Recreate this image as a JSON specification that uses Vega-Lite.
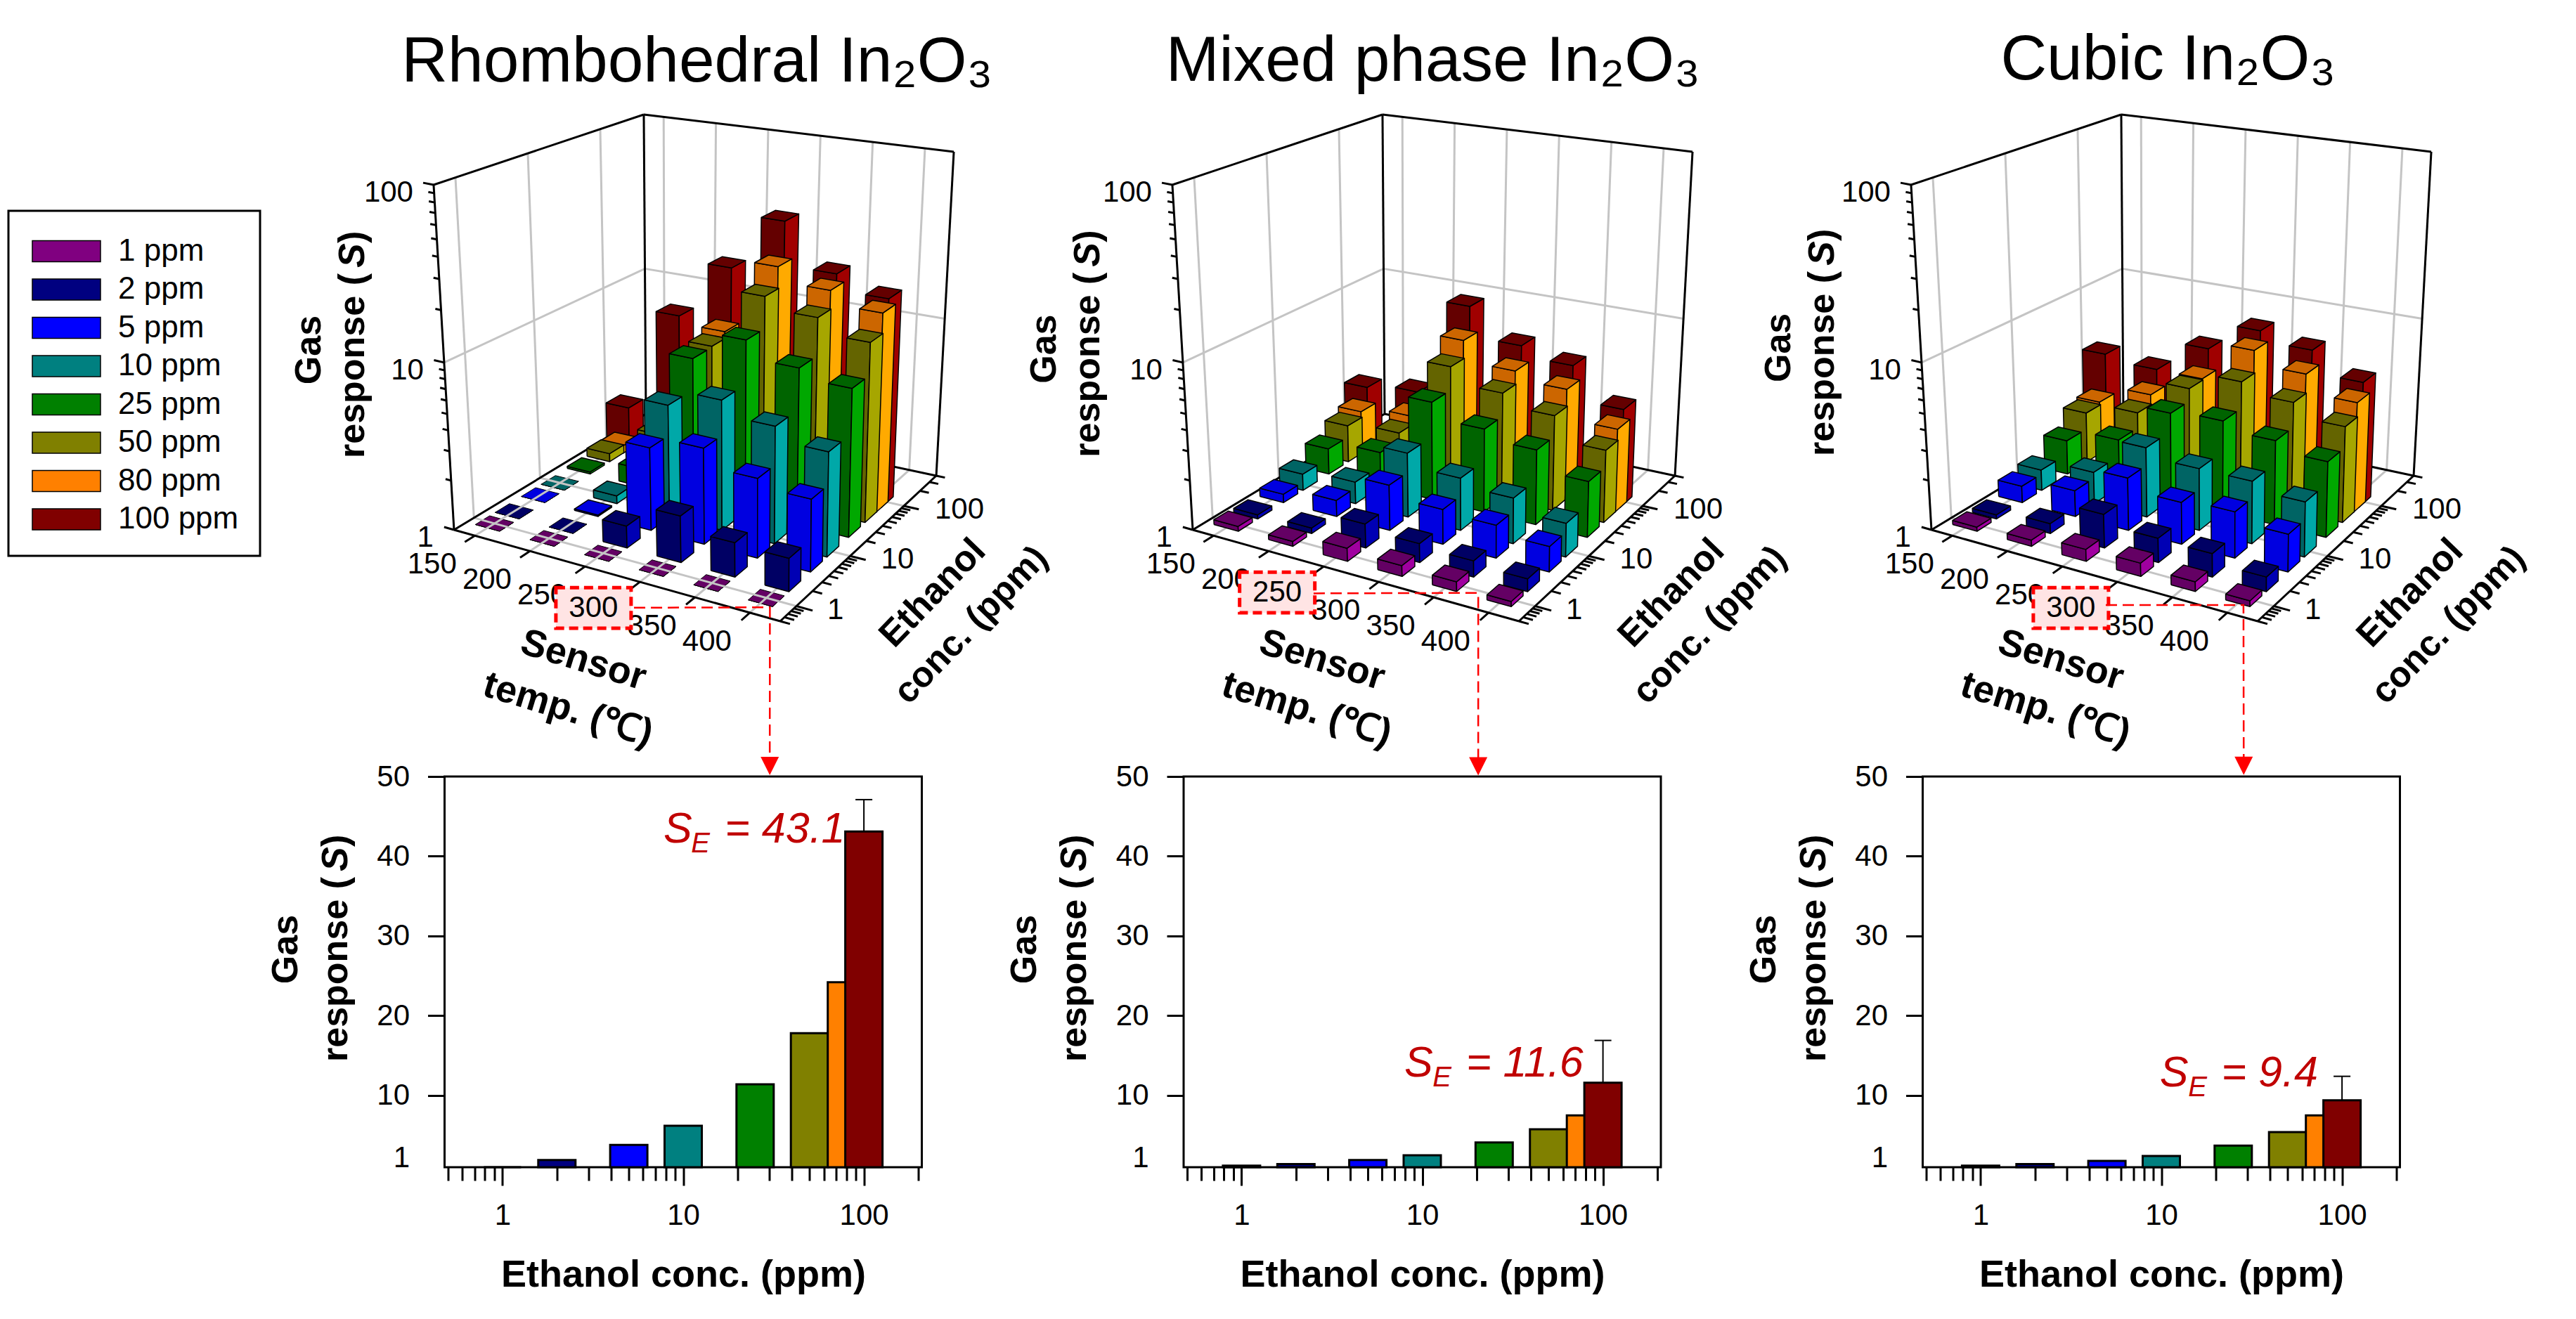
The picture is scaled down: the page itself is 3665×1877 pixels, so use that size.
{"$schema":"https://vega.github.io/schema/vega-lite/v6.json","padding":0,"background":"white","bounds":"flush","spacing":0,"config":{"font":"Liberation Sans","view":{"stroke":null},"legend":{"strokeWidth":3}},"resolve":{"scale":{"color":"independent","fill":"independent"},"legend":{"color":"independent"}},"vconcat":[{"width":3665,"height":1105,"data":{"values":[
{"kind":"grid","temp":150,"conc":0.5,"response":1,"temp2":150,"conc2":400,"response2":1},{"kind":"grid","temp":200,"conc":0.5,"response":1,"temp2":200,"conc2":400,"response2":1},{"kind":"grid","temp":250,"conc":0.5,"response":1,"temp2":250,"conc2":400,"response2":1},{"kind":"grid","temp":300,"conc":0.5,"response":1,"temp2":300,"conc2":400,"response2":1},{"kind":"grid","temp":350,"conc":0.5,"response":1,"temp2":350,"conc2":400,"response2":1},{"kind":"grid","temp":400,"conc":0.5,"response":1,"temp2":400,"conc2":400,"response2":1},
{"kind":"grid","temp":131,"conc":1,"response":1,"temp2":427.6,"conc2":1,"response2":1},{"kind":"grid","temp":131,"conc":10,"response":1,"temp2":427.6,"conc2":10,"response2":1},{"kind":"grid","temp":131,"conc":100,"response":1,"temp2":427.6,"conc2":100,"response2":1},
{"kind":"grid","temp":131,"conc":1,"response":1,"temp2":131,"conc2":1,"response2":100},{"kind":"grid","temp":131,"conc":10,"response":1,"temp2":131,"conc2":10,"response2":100},{"kind":"grid","temp":131,"conc":100,"response":1,"temp2":131,"conc2":100,"response2":100},
{"kind":"grid","temp":131,"conc":0.5,"response":10,"temp2":131,"conc2":400,"response2":10},
{"kind":"grid","temp":150,"conc":400,"response":1,"temp2":150,"conc2":400,"response2":100},{"kind":"grid","temp":200,"conc":400,"response":1,"temp2":200,"conc2":400,"response2":100},{"kind":"grid","temp":250,"conc":400,"response":1,"temp2":250,"conc2":400,"response2":100},{"kind":"grid","temp":300,"conc":400,"response":1,"temp2":300,"conc2":400,"response2":100},{"kind":"grid","temp":350,"conc":400,"response":1,"temp2":350,"conc2":400,"response2":100},{"kind":"grid","temp":400,"conc":400,"response":1,"temp2":400,"conc2":400,"response2":100},
{"kind":"grid","temp":131,"conc":400,"response":10,"temp2":427.6,"conc2":400,"response2":10},
{"kind":"frame","temp":131,"conc":0.5,"response":1,"temp2":427.6,"conc2":0.5,"response2":1},{"kind":"frame","temp":427.6,"conc":0.5,"response":1,"temp2":427.6,"conc2":400,"response2":1},{"kind":"frame","temp":131,"conc":0.5,"response":1,"temp2":131,"conc2":400,"response2":1},{"kind":"frame","temp":131,"conc":400,"response":1,"temp2":427.6,"conc2":400,"response2":1},{"kind":"frame","temp":131,"conc":0.5,"response":1,"temp2":131,"conc2":0.5,"response2":100},{"kind":"frame","temp":131,"conc":400,"response":1,"temp2":131,"conc2":400,"response2":100},{"kind":"frame","temp":427.6,"conc":400,"response":1,"temp2":427.6,"conc2":400,"response2":100},{"kind":"frame","temp":131,"conc":0.5,"response":100,"temp2":131,"conc2":400,"response2":100},{"kind":"frame","temp":131,"conc":400,"response":100,"temp2":427.6,"conc2":400,"response2":100},
{"kind":"frame","temp":150,"conc":0.5,"response":1,"temp2":150,"conc2":0.35,"response2":1},{"kind":"frame","temp":200,"conc":0.5,"response":1,"temp2":200,"conc2":0.35,"response2":1},{"kind":"frame","temp":250,"conc":0.5,"response":1,"temp2":250,"conc2":0.35,"response2":1},{"kind":"frame","temp":300,"conc":0.5,"response":1,"temp2":300,"conc2":0.35,"response2":1},{"kind":"frame","temp":350,"conc":0.5,"response":1,"temp2":350,"conc2":0.35,"response2":1},{"kind":"frame","temp":400,"conc":0.5,"response":1,"temp2":400,"conc2":0.35,"response2":1},
{"kind":"frame","temp":427.6,"conc":0.5,"response":1,"temp2":436.5,"conc2":0.5,"response2":1},{"kind":"frame","temp":427.6,"conc":0.6,"response":1,"temp2":436.5,"conc2":0.6,"response2":1},{"kind":"frame","temp":427.6,"conc":0.7,"response":1,"temp2":436.5,"conc2":0.7,"response2":1},{"kind":"frame","temp":427.6,"conc":0.8,"response":1,"temp2":436.5,"conc2":0.8,"response2":1},{"kind":"frame","temp":427.6,"conc":0.9,"response":1,"temp2":436.5,"conc2":0.9,"response2":1},{"kind":"frame","temp":427.6,"conc":1,"response":1,"temp2":442.5,"conc2":1,"response2":1},{"kind":"frame","temp":427.6,"conc":2,"response":1,"temp2":436.5,"conc2":2,"response2":1},{"kind":"frame","temp":427.6,"conc":3,"response":1,"temp2":436.5,"conc2":3,"response2":1},{"kind":"frame","temp":427.6,"conc":4,"response":1,"temp2":436.5,"conc2":4,"response2":1},{"kind":"frame","temp":427.6,"conc":5,"response":1,"temp2":436.5,"conc2":5,"response2":1},{"kind":"frame","temp":427.6,"conc":6,"response":1,"temp2":436.5,"conc2":6,"response2":1},{"kind":"frame","temp":427.6,"conc":7,"response":1,"temp2":436.5,"conc2":7,"response2":1},{"kind":"frame","temp":427.6,"conc":8,"response":1,"temp2":436.5,"conc2":8,"response2":1},{"kind":"frame","temp":427.6,"conc":9,"response":1,"temp2":436.5,"conc2":9,"response2":1},{"kind":"frame","temp":427.6,"conc":10,"response":1,"temp2":442.5,"conc2":10,"response2":1},{"kind":"frame","temp":427.6,"conc":20,"response":1,"temp2":436.5,"conc2":20,"response2":1},{"kind":"frame","temp":427.6,"conc":30,"response":1,"temp2":436.5,"conc2":30,"response2":1},{"kind":"frame","temp":427.6,"conc":40,"response":1,"temp2":436.5,"conc2":40,"response2":1},{"kind":"frame","temp":427.6,"conc":50,"response":1,"temp2":436.5,"conc2":50,"response2":1},{"kind":"frame","temp":427.6,"conc":60,"response":1,"temp2":436.5,"conc2":60,"response2":1},{"kind":"frame","temp":427.6,"conc":70,"response":1,"temp2":436.5,"conc2":70,"response2":1},{"kind":"frame","temp":427.6,"conc":80,"response":1,"temp2":436.5,"conc2":80,"response2":1},{"kind":"frame","temp":427.6,"conc":90,"response":1,"temp2":436.5,"conc2":90,"response2":1},{"kind":"frame","temp":427.6,"conc":100,"response":1,"temp2":442.5,"conc2":100,"response2":1},{"kind":"frame","temp":427.6,"conc":200,"response":1,"temp2":436.5,"conc2":200,"response2":1},{"kind":"frame","temp":427.6,"conc":300,"response":1,"temp2":436.5,"conc2":300,"response2":1},{"kind":"frame","temp":427.6,"conc":400,"response":1,"temp2":436.5,"conc2":400,"response2":1},
{"kind":"frame","temp":131,"conc":0.5,"response":1,"temp2":122,"conc2":0.5,"response2":1},{"kind":"frame","temp":131,"conc":0.5,"response":2,"temp2":126,"conc2":0.5,"response2":2},{"kind":"frame","temp":131,"conc":0.5,"response":3,"temp2":126,"conc2":0.5,"response2":3},{"kind":"frame","temp":131,"conc":0.5,"response":4,"temp2":126,"conc2":0.5,"response2":4},{"kind":"frame","temp":131,"conc":0.5,"response":5,"temp2":126,"conc2":0.5,"response2":5},{"kind":"frame","temp":131,"conc":0.5,"response":6,"temp2":126,"conc2":0.5,"response2":6},{"kind":"frame","temp":131,"conc":0.5,"response":7,"temp2":126,"conc2":0.5,"response2":7},{"kind":"frame","temp":131,"conc":0.5,"response":8,"temp2":126,"conc2":0.5,"response2":8},{"kind":"frame","temp":131,"conc":0.5,"response":9,"temp2":126,"conc2":0.5,"response2":9},{"kind":"frame","temp":131,"conc":0.5,"response":10,"temp2":122,"conc2":0.5,"response2":10},{"kind":"frame","temp":131,"conc":0.5,"response":20,"temp2":126,"conc2":0.5,"response2":20},{"kind":"frame","temp":131,"conc":0.5,"response":30,"temp2":126,"conc2":0.5,"response2":30},{"kind":"frame","temp":131,"conc":0.5,"response":40,"temp2":126,"conc2":0.5,"response2":40},{"kind":"frame","temp":131,"conc":0.5,"response":50,"temp2":126,"conc2":0.5,"response2":50},{"kind":"frame","temp":131,"conc":0.5,"response":60,"temp2":126,"conc2":0.5,"response2":60},{"kind":"frame","temp":131,"conc":0.5,"response":70,"temp2":126,"conc2":0.5,"response2":70},{"kind":"frame","temp":131,"conc":0.5,"response":80,"temp2":126,"conc2":0.5,"response2":80},{"kind":"frame","temp":131,"conc":0.5,"response":90,"temp2":126,"conc2":0.5,"response2":90},{"kind":"frame","temp":131,"conc":0.5,"response":100,"temp2":122,"conc2":0.5,"response2":100},
{"kind":"tl","temp":150,"conc":0.5,"response":1,"text":"150"},{"kind":"tl","temp":200,"conc":0.5,"response":1,"text":"200"},{"kind":"tl","temp":250,"conc":0.5,"response":1,"text":"250"},{"kind":"tl","temp":300,"conc":0.5,"response":1,"text":"300"},{"kind":"tl","temp":350,"conc":0.5,"response":1,"text":"350"},{"kind":"tl","temp":400,"conc":0.5,"response":1,"text":"400"},
{"kind":"cl","temp":427.6,"conc":1,"response":1,"text":"1"},{"kind":"cl","temp":427.6,"conc":10,"response":1,"text":"10"},{"kind":"cl","temp":427.6,"conc":100,"response":1,"text":"100"},
{"kind":"rl","temp":131,"conc":0.5,"response":1,"text":"1"},{"kind":"rl","temp":131,"conc":0.5,"response":10,"text":"10"},{"kind":"rl","temp":131,"conc":0.5,"response":100,"text":"100"},
{"kind":"box","p":0,"temp":300,"conc":0.5,"response":1,"text":"300"},{"kind":"box","p":1,"temp":250,"conc":0.5,"response":1,"text":"250"},{"kind":"box","p":2,"temp":300,"conc":0.5,"response":1,"text":"300"},
{"kind":"conn","p":0,"k":0,"temp":317.9,"conc":0.1824,"response":1},{"kind":"conn","p":0,"k":1,"temp":409.8,"conc":0.74,"response":1},{"kind":"conn","p":0,"k":2,"temp":518,"conc":0.00317,"response":1},
{"kind":"conn","p":1,"k":0,"temp":267.4,"conc":0.1648,"response":1},{"kind":"conn","p":1,"k":1,"temp":377.2,"conc":0.919,"response":1},{"kind":"conn","p":1,"k":2,"temp":498.8,"conc":0.00227,"response":1},
{"kind":"conn","p":2,"k":0,"temp":311.9,"conc":0.19,"response":1},{"kind":"conn","p":2,"k":1,"temp":405.3,"conc":0.774,"response":1},{"kind":"conn","p":2,"k":2,"temp":515.7,"conc":0.00307,"response":1},
{"kind":"title","p":0,"temp":131,"conc":0.5,"response":1,"text":"Rhombohedral In₂O₃"},{"kind":"title","p":1,"temp":128.4,"conc":0.5,"response":1,"text":"Mixed phase In₂O₃"},{"kind":"title","p":2,"temp":125.2,"conc":0.5,"response":1,"text":"Cubic In₂O₃"},
{"kind":"ytitle","p":0,"temp":131,"conc":0.5,"response":1},{"kind":"ytitle","p":1,"temp":128,"conc":0.5,"response":1},{"kind":"ytitle","p":2,"temp":124,"conc":0.5,"response":1},
{"kind":"anchor","temp":131,"conc":0.5,"response":1},
{"kind":"legend","p":0,"temp":150,"conc":1,"response":1,"ppm":"1 ppm"},{"kind":"legend","p":0,"temp":150,"conc":1,"response":1,"ppm":"2 ppm"},{"kind":"legend","p":0,"temp":150,"conc":1,"response":1,"ppm":"5 ppm"},{"kind":"legend","p":0,"temp":150,"conc":1,"response":1,"ppm":"10 ppm"},{"kind":"legend","p":0,"temp":150,"conc":1,"response":1,"ppm":"25 ppm"},{"kind":"legend","p":0,"temp":150,"conc":1,"response":1,"ppm":"50 ppm"},{"kind":"legend","p":0,"temp":150,"conc":1,"response":1,"ppm":"80 ppm"},{"kind":"legend","p":0,"temp":150,"conc":1,"response":1,"ppm":"100 ppm"},
{"kind":"bar","p":0,"temp":150,"conc":100,"response":1.9},{"kind":"bar","p":0,"temp":200,"conc":100,"response":8.8},{"kind":"bar","p":0,"temp":250,"conc":100,"response":20},{"kind":"bar","p":0,"temp":300,"conc":100,"response":43.1},{"kind":"bar","p":0,"temp":350,"conc":100,"response":23.6},{"kind":"bar","p":0,"temp":400,"conc":100,"response":19},
{"kind":"bar","p":0,"temp":150,"conc":80,"response":1.12},{"kind":"bar","p":0,"temp":200,"conc":80,"response":2.2},{"kind":"bar","p":0,"temp":250,"conc":80,"response":8.5},{"kind":"bar","p":0,"temp":300,"conc":80,"response":24.2},{"kind":"bar","p":0,"temp":350,"conc":80,"response":19.8},{"kind":"bar","p":0,"temp":400,"conc":80,"response":16.5},
{"kind":"bar","p":0,"temp":150,"conc":50,"response":1.13},{"kind":"bar","p":0,"temp":200,"conc":50,"response":1.8},{"kind":"bar","p":0,"temp":250,"conc":50,"response":7.7},{"kind":"bar","p":0,"temp":300,"conc":50,"response":17.8},{"kind":"bar","p":0,"temp":350,"conc":50,"response":15.2},{"kind":"bar","p":0,"temp":400,"conc":50,"response":12.4},
{"kind":"bar","p":0,"temp":150,"conc":25,"response":1.03},{"kind":"bar","p":0,"temp":200,"conc":25,"response":1.3},{"kind":"bar","p":0,"temp":250,"conc":25,"response":7.6},{"kind":"bar","p":0,"temp":300,"conc":25,"response":11.4},{"kind":"bar","p":0,"temp":350,"conc":25,"response":9},{"kind":"bar","p":0,"temp":400,"conc":25,"response":7.9},
{"kind":"bar","p":0,"temp":150,"conc":10,"response":1},{"kind":"bar","p":0,"temp":200,"conc":10,"response":1.12},{"kind":"bar","p":0,"temp":250,"conc":10,"response":4.9},{"kind":"bar","p":0,"temp":300,"conc":10,"response":6.2},{"kind":"bar","p":0,"temp":350,"conc":10,"response":5.1},{"kind":"bar","p":0,"temp":400,"conc":10,"response":4.25},
{"kind":"bar","p":0,"temp":150,"conc":5,"response":1},{"kind":"bar","p":0,"temp":200,"conc":5,"response":1.02},{"kind":"bar","p":0,"temp":250,"conc":5,"response":3.2},{"kind":"bar","p":0,"temp":300,"conc":5,"response":3.8},{"kind":"bar","p":0,"temp":350,"conc":5,"response":3},{"kind":"bar","p":0,"temp":400,"conc":5,"response":2.7},
{"kind":"bar","p":0,"temp":150,"conc":2,"response":1},{"kind":"bar","p":0,"temp":200,"conc":2,"response":1},{"kind":"bar","p":0,"temp":250,"conc":2,"response":1.36},{"kind":"bar","p":0,"temp":300,"conc":2,"response":1.9},{"kind":"bar","p":0,"temp":350,"conc":2,"response":1.6},{"kind":"bar","p":0,"temp":400,"conc":2,"response":1.57},
{"kind":"bar","p":0,"temp":150,"conc":1,"response":1},{"kind":"bar","p":0,"temp":200,"conc":1,"response":1},{"kind":"bar","p":0,"temp":250,"conc":1,"response":1},{"kind":"bar","p":0,"temp":300,"conc":1,"response":1},{"kind":"bar","p":0,"temp":350,"conc":1,"response":1},{"kind":"bar","p":0,"temp":400,"conc":1,"response":1},
{"kind":"bar","p":1,"temp":150,"conc":100,"response":2.6},{"kind":"bar","p":1,"temp":200,"conc":100,"response":2.85},{"kind":"bar","p":1,"temp":250,"conc":100,"response":11.6},{"kind":"bar","p":1,"temp":300,"conc":100,"response":7.6},{"kind":"bar","p":1,"temp":350,"conc":100,"response":6.6},{"kind":"bar","p":1,"temp":400,"conc":100,"response":4.1},
{"kind":"bar","p":1,"temp":150,"conc":80,"response":1.9},{"kind":"bar","p":1,"temp":200,"conc":80,"response":2.1},{"kind":"bar","p":1,"temp":250,"conc":80,"response":7.5},{"kind":"bar","p":1,"temp":300,"conc":80,"response":5.6},{"kind":"bar","p":1,"temp":350,"conc":80,"response":5},{"kind":"bar","p":1,"temp":400,"conc":80,"response":3.3},
{"kind":"bar","p":1,"temp":150,"conc":50,"response":1.73},{"kind":"bar","p":1,"temp":200,"conc":50,"response":1.85},{"kind":"bar","p":1,"temp":250,"conc":50,"response":5.75},{"kind":"bar","p":1,"temp":300,"conc":50,"response":4.6},{"kind":"bar","p":1,"temp":350,"conc":50,"response":3.9},{"kind":"bar","p":1,"temp":400,"conc":50,"response":2.8},
{"kind":"bar","p":1,"temp":150,"conc":25,"response":1.46},{"kind":"bar","p":1,"temp":200,"conc":25,"response":1.66},{"kind":"bar","p":1,"temp":250,"conc":25,"response":4.1},{"kind":"bar","p":1,"temp":300,"conc":25,"response":3.3},{"kind":"bar","p":1,"temp":350,"conc":25,"response":2.9},{"kind":"bar","p":1,"temp":400,"conc":25,"response":2.2},
{"kind":"bar","p":1,"temp":150,"conc":10,"response":1.27},{"kind":"bar","p":1,"temp":200,"conc":10,"response":1.37},{"kind":"bar","p":1,"temp":250,"conc":10,"response":2.5},{"kind":"bar","p":1,"temp":300,"conc":10,"response":2.1},{"kind":"bar","p":1,"temp":350,"conc":10,"response":1.9},{"kind":"bar","p":1,"temp":400,"conc":10,"response":1.6},
{"kind":"bar","p":1,"temp":150,"conc":5,"response":1.13},{"kind":"bar","p":1,"temp":200,"conc":5,"response":1.26},{"kind":"bar","p":1,"temp":250,"conc":5,"response":1.9},{"kind":"bar","p":1,"temp":300,"conc":5,"response":1.63},{"kind":"bar","p":1,"temp":350,"conc":5,"response":1.58},{"kind":"bar","p":1,"temp":400,"conc":5,"response":1.42},
{"kind":"bar","p":1,"temp":150,"conc":2,"response":1.06},{"kind":"bar","p":1,"temp":200,"conc":2,"response":1.08},{"kind":"bar","p":1,"temp":250,"conc":2,"response":1.4},{"kind":"bar","p":1,"temp":300,"conc":2,"response":1.3},{"kind":"bar","p":1,"temp":350,"conc":2,"response":1.25},{"kind":"bar","p":1,"temp":400,"conc":2,"response":1.19},
{"kind":"bar","p":1,"temp":150,"conc":1,"response":1.07},{"kind":"bar","p":1,"temp":200,"conc":1,"response":1.07},{"kind":"bar","p":1,"temp":250,"conc":1,"response":1.2},{"kind":"bar","p":1,"temp":300,"conc":1,"response":1.16},{"kind":"bar","p":1,"temp":350,"conc":1,"response":1.14},{"kind":"bar","p":1,"temp":400,"conc":1,"response":1.07},
{"kind":"bar","p":2,"temp":150,"conc":100,"response":4.3},{"kind":"bar","p":2,"temp":200,"conc":100,"response":4},{"kind":"bar","p":2,"temp":250,"conc":100,"response":6.3},{"kind":"bar","p":2,"temp":300,"conc":100,"response":9.4},{"kind":"bar","p":2,"temp":350,"conc":100,"response":8.2},{"kind":"bar","p":2,"temp":400,"conc":100,"response":6},
{"kind":"bar","p":2,"temp":150,"conc":80,"response":2.2},{"kind":"bar","p":2,"temp":200,"conc":80,"response":2.9},{"kind":"bar","p":2,"temp":250,"conc":80,"response":4.3},{"kind":"bar","p":2,"temp":300,"conc":80,"response":7.5},{"kind":"bar","p":2,"temp":350,"conc":80,"response":6.2},{"kind":"bar","p":2,"temp":400,"conc":80,"response":4.8},
{"kind":"bar","p":2,"temp":150,"conc":50,"response":2.1},{"kind":"bar","p":2,"temp":200,"conc":50,"response":2.5},{"kind":"bar","p":2,"temp":250,"conc":50,"response":4.2},{"kind":"bar","p":2,"temp":300,"conc":50,"response":5.4},{"kind":"bar","p":2,"temp":350,"conc":50,"response":4.7},{"kind":"bar","p":2,"temp":400,"conc":50,"response":3.9},
{"kind":"bar","p":2,"temp":150,"conc":25,"response":1.65},{"kind":"bar","p":2,"temp":200,"conc":25,"response":2},{"kind":"bar","p":2,"temp":250,"conc":25,"response":3.5},{"kind":"bar","p":2,"temp":300,"conc":25,"response":3.7},{"kind":"bar","p":2,"temp":350,"conc":25,"response":3.3},{"kind":"bar","p":2,"temp":400,"conc":25,"response":2.9},
{"kind":"bar","p":2,"temp":150,"conc":10,"response":1.35},{"kind":"bar","p":2,"temp":200,"conc":10,"response":1.58},{"kind":"bar","p":2,"temp":250,"conc":10,"response":2.7},{"kind":"bar","p":2,"temp":300,"conc":10,"response":2.4},{"kind":"bar","p":2,"temp":350,"conc":10,"response":2.4},{"kind":"bar","p":2,"temp":400,"conc":10,"response":2.15},
{"kind":"bar","p":2,"temp":150,"conc":5,"response":1.27},{"kind":"bar","p":2,"temp":200,"conc":5,"response":1.45},{"kind":"bar","p":2,"temp":250,"conc":5,"response":2.1},{"kind":"bar","p":2,"temp":300,"conc":5,"response":1.8},{"kind":"bar","p":2,"temp":350,"conc":5,"response":1.9},{"kind":"bar","p":2,"temp":400,"conc":5,"response":1.68},
{"kind":"bar","p":2,"temp":150,"conc":2,"response":1.06},{"kind":"bar","p":2,"temp":200,"conc":2,"response":1.15},{"kind":"bar","p":2,"temp":250,"conc":2,"response":1.6},{"kind":"bar","p":2,"temp":300,"conc":2,"response":1.4},{"kind":"bar","p":2,"temp":350,"conc":2,"response":1.38},{"kind":"bar","p":2,"temp":400,"conc":2,"response":1.22},
{"kind":"bar","p":2,"temp":150,"conc":1,"response":1.06},{"kind":"bar","p":2,"temp":200,"conc":1,"response":1.09},{"kind":"bar","p":2,"temp":250,"conc":1,"response":1.18},{"kind":"bar","p":2,"temp":300,"conc":1,"response":1.2},{"kind":"bar","p":2,"temp":350,"conc":1,"response":1.14},{"kind":"bar","p":2,"temp":400,"conc":1,"response":1.08}
]},
"transform":[
{"calculate":"isValid(datum.p)?[datum.p]:[0,1,2]","as":"panels"},{"flatten":["panels"],"as":["panel"]},
{"calculate":"datum.kind=='bar'?[{f:'a',i:0,a:-1,b:-1,h:0},{f:'a',i:1,a:1,b:-1,h:0},{f:'a',i:2,a:1,b:-1,h:1},{f:'a',i:3,a:-1,b:-1,h:1},{f:'a',i:4,a:-1,b:-1,h:0},{f:'b',i:0,a:1,b:-1,h:0},{f:'b',i:1,a:1,b:1,h:0},{f:'b',i:2,a:1,b:1,h:1},{f:'b',i:3,a:1,b:-1,h:1},{f:'b',i:4,a:1,b:-1,h:0},{f:'c',i:0,a:-1,b:-1,h:1},{f:'c',i:1,a:1,b:-1,h:1},{f:'c',i:2,a:1,b:1,h:1},{f:'c',i:3,a:-1,b:1,h:1},{f:'c',i:4,a:-1,b:-1,h:1}]:[{f:'x',i:0,a:0,b:0,h:1}]","as":"verts"},{"flatten":["verts"],"as":["vert"]},
{"calculate":"0.064+(datum.temp-150)*0.003372+0.0375*datum.vert.a","as":"u"},
{"calculate":"(log(datum.conc)/LN10+0.301)/2.903+0.0375*datum.vert.b","as":"v"},
{"calculate":"log(datum.response)/LN10/2*datum.vert.h","as":"w0"},
{"calculate":"datum.w0*(0.94+0.06*datum.w0)","as":"w"},
{"calculate":"646+1051*datum.panel+464*datum.u+273*datum.v-51*datum.u*datum.v+datum.w*(-29+28*datum.u+26*datum.v)","as":"px"},
{"calculate":"754+130*datum.u-165*datum.v-42*datum.u*datum.v+datum.w*(-491-35*datum.u+65*datum.v)","as":"py"},
{"calculate":"0.064+(datum.temp2-150)*0.003372","as":"u2"},
{"calculate":"(log(datum.conc2)/LN10+0.301)/2.903","as":"v2"},
{"calculate":"log(datum.response2)/LN10/2","as":"w20"},
{"calculate":"datum.w20*(0.94+0.06*datum.w20)","as":"w2"},
{"calculate":"646+1051*datum.panel+464*datum.u2+273*datum.v2-51*datum.u2*datum.v2+datum.w2*(-29+28*datum.u2+26*datum.v2)","as":"px2"},
{"calculate":"754+130*datum.u2-165*datum.v2-42*datum.u2*datum.v2+datum.w2*(-491-35*datum.u2+65*datum.v2)","as":"py2"},
{"calculate":"datum.panel+'|'+datum.temp+'|'+datum.conc+'|'+datum.vert.f","as":"faceId"},
{"calculate":"datum.conc+(datum.vert.f=='b'?'l':'d')","as":"shade"},
{"calculate":"datum.vert.i","as":"vi"}
],
"encoding":{"x":{"field":"px","type":"quantitative","axis":null,"scale":{"domain":[0,3665],"nice":false,"zero":false}},"y":{"field":"py","type":"quantitative","axis":null,"scale":{"domain":[0,1105],"reverse":true,"nice":false,"zero":false}}},
"layer":[
{"transform":[{"filter":"datum.kind=='bar'&&datum.response<=1"}],"mark":{"type":"line","stroke":"black","strokeWidth":1},"encoding":{"fill":{"field":"shade","type":"nominal","legend":null,"scale":{"domain":["1d","1l","2d","2l","5d","5l","10d","10l","25d","25l","50d","50l","80d","80l","100d","100l"],"range":["#640064","#a000a0","#000064","#0000b4","#0000e0","#0000ff","#006464","#00a8a8","#006400","#00a800","#646400","#a6a600","#cc6600","#ffaa00","#640000","#a00000"]}},"detail":{"field":"faceId"},"order":{"field":"vi","type":"quantitative"}}},
{"transform":[{"filter":"datum.kind=='grid'"}],"mark":{"type":"rule","stroke":"#c4c4c4","strokeWidth":3},"encoding":{"x2":{"field":"px2"},"y2":{"field":"py2"}}},
{"transform":[{"filter":"datum.kind=='frame'"}],"mark":{"type":"rule","stroke":"black","strokeWidth":3},"encoding":{"x2":{"field":"px2"},"y2":{"field":"py2"}}},
{"transform":[{"filter":"datum.kind=='bar'&&datum.response>1"}],"mark":{"type":"line","stroke":"black","strokeWidth":1.5,"strokeJoin":"round"},"encoding":{"fill":{"field":"shade","type":"nominal","legend":null,"scale":{"domain":["1d","1l","2d","2l","5d","5l","10d","10l","25d","25l","50d","50l","80d","80l","100d","100l"],"range":["#640064","#a000a0","#000064","#0000b4","#0000e0","#0000ff","#006464","#00a8a8","#006400","#00a800","#646400","#a6a600","#cc6600","#ffaa00","#640000","#a00000"]}},"detail":{"field":"faceId"},"order":{"field":"vi","type":"quantitative"}}},
{"transform":[{"filter":"datum.kind=='tl'"}],"mark":{"type":"text","fontSize":42,"align":"center","baseline":"middle","xOffset":-61,"yOffset":41,"color":"black"},"encoding":{"text":{"field":"text"}}},
{"transform":[{"filter":"datum.kind=='cl'"}],"mark":{"type":"text","fontSize":42,"align":"left","baseline":"middle","xOffset":44,"yOffset":5,"color":"black"},"encoding":{"text":{"field":"text"}}},
{"transform":[{"filter":"datum.kind=='rl'"}],"mark":{"type":"text","fontSize":42,"align":"right","baseline":"middle","xOffset":-29,"yOffset":11,"color":"black"},"encoding":{"text":{"field":"text"}}},
{"transform":[{"filter":"datum.kind=='box'"}],"mark":{"type":"point","shape":"M-1,-0.54H1V0.54H-1Z","size":11449,"filled":false,"fill":"#ffe4e4","fillOpacity":1,"opacity":1,"stroke":"#ff0000","strokeWidth":5,"strokeDash":[13,7],"xOffset":-66,"yOffset":37}},
{"transform":[{"filter":"datum.kind=='box'"}],"mark":{"type":"text","fontSize":42,"align":"center","baseline":"middle","xOffset":-66,"yOffset":37,"color":"black"},"encoding":{"text":{"field":"text"}}},
{"transform":[{"filter":"datum.kind=='conn'"}],"mark":{"type":"line","stroke":"#ff0000","strokeWidth":2.5,"strokeDash":[16,8]},"encoding":{"detail":{"field":"panel"},"order":{"field":"k","type":"quantitative"}}},
{"transform":[{"filter":"datum.kind=='conn'&&datum.k==2"}],"mark":{"type":"point","shape":"M-1,-1H1L0,1Z","size":676,"filled":true,"color":"#ff0000","opacity":1}},
{"transform":[{"filter":"datum.kind=='title'"}],"mark":{"type":"text","fontSize":91,"align":"center","baseline":"alphabetic","xOffset":346,"yOffset":-638,"color":"black"},"encoding":{"text":{"field":"text"}}},
{"transform":[{"filter":"datum.kind=='ytitle'"}],"mark":{"type":"text","text":"Gas","fontSize":52,"fontWeight":"bold","angle":270,"align":"center","baseline":"middle","xOffset":-206,"yOffset":-256,"color":"black"}},
{"transform":[{"filter":"datum.kind=='ytitle'"}],"mark":{"type":"text","text":"response (","fontSize":52,"fontWeight":"bold","angle":270,"align":"left","baseline":"middle","xOffset":-144,"yOffset":-102,"color":"black"}},
{"transform":[{"filter":"datum.kind=='ytitle'"}],"mark":{"type":"text","text":"S","fontSize":52,"fontWeight":"bold","fontStyle":"italic","angle":270,"align":"left","baseline":"middle","xOffset":-144,"yOffset":-373,"color":"black"}},
{"transform":[{"filter":"datum.kind=='ytitle'"}],"mark":{"type":"text","text":")","fontSize":52,"fontWeight":"bold","angle":270,"align":"left","baseline":"middle","xOffset":-144,"yOffset":-408,"color":"black"}},
{"transform":[{"filter":"datum.kind=='anchor'"}],"mark":{"type":"text","text":"Sensor","fontSize":54,"fontWeight":"bold","angle":17,"align":"center","baseline":"middle","xOffset":184,"yOffset":186,"color":"black"}},
{"transform":[{"filter":"datum.kind=='anchor'"}],"mark":{"type":"text","text":"temp. (℃)","fontSize":54,"fontWeight":"bold","angle":17,"align":"center","baseline":"middle","xOffset":162,"yOffset":256,"color":"black"}},
{"transform":[{"filter":"datum.kind=='anchor'"}],"mark":{"type":"text","text":"Ethanol","fontSize":52,"fontWeight":"bold","angle":314,"align":"center","baseline":"middle","xOffset":681,"yOffset":90,"color":"black"}},
{"transform":[{"filter":"datum.kind=='anchor'"}],"mark":{"type":"text","text":"conc. (ppm)","fontSize":51,"fontWeight":"bold","angle":314,"align":"center","baseline":"middle","xOffset":736,"yOffset":136,"color":"black"}},
{"transform":[{"filter":"datum.kind=='legend'"}],"mark":{"type":"point","filled":true,"size":0},"encoding":{"color":{"field":"ppm","type":"nominal","scale":{"domain":["1 ppm","2 ppm","5 ppm","10 ppm","25 ppm","50 ppm","80 ppm","100 ppm"],"range":["#800080","#000080","#0000ff","#008080","#008000","#808000","#ff8000","#800000"]},"legend":{"orient":"none","legendX":12,"legendY":300,"title":null,"padding":30,"strokeColor":"black","fillColor":"white","symbolType":"M-1.83,-0.566H1.83V0.566H-1.83Z","symbolSize":2809,"symbolStrokeColor":"black","symbolStrokeWidth":1.5,"symbolOpacity":1,"symbolOffset":25,"labelOffset":46,"labelFontSize":44,"labelColor":"black","labelFont":"Liberation Sans","rowPadding":4.5,"labelLimit":400}}}}
]},
{"hconcat":[{"width":259.5,"height":10,"data":{"values":[{"a":1}]},"mark":{"type":"point","opacity":0}},
{"data":{"values":[
{"panel":"Rhombohedral","kind":"bar","conc":1,"response":1,"ppm":"1 ppm"},{"panel":"Rhombohedral","kind":"bar","conc":2,"response":1.9,"ppm":"2 ppm"},{"panel":"Rhombohedral","kind":"bar","conc":5,"response":3.8,"ppm":"5 ppm"},{"panel":"Rhombohedral","kind":"bar","conc":10,"response":6.2,"ppm":"10 ppm"},{"panel":"Rhombohedral","kind":"bar","conc":25,"response":11.4,"ppm":"25 ppm"},{"panel":"Rhombohedral","kind":"bar","conc":50,"response":17.8,"ppm":"50 ppm"},{"panel":"Rhombohedral","kind":"bar","conc":80,"response":24.2,"ppm":"80 ppm"},{"panel":"Rhombohedral","kind":"bar","conc":100,"response":43.1,"ppm":"100 ppm"},
{"panel":"Mixed phase","kind":"bar","conc":1,"response":1.2,"ppm":"1 ppm"},{"panel":"Mixed phase","kind":"bar","conc":2,"response":1.4,"ppm":"2 ppm"},{"panel":"Mixed phase","kind":"bar","conc":5,"response":1.9,"ppm":"5 ppm"},{"panel":"Mixed phase","kind":"bar","conc":10,"response":2.5,"ppm":"10 ppm"},{"panel":"Mixed phase","kind":"bar","conc":25,"response":4.1,"ppm":"25 ppm"},{"panel":"Mixed phase","kind":"bar","conc":50,"response":5.75,"ppm":"50 ppm"},{"panel":"Mixed phase","kind":"bar","conc":80,"response":7.5,"ppm":"80 ppm"},{"panel":"Mixed phase","kind":"bar","conc":100,"response":11.6,"ppm":"100 ppm"},
{"panel":"Cubic","kind":"bar","conc":1,"response":1.2,"ppm":"1 ppm"},{"panel":"Cubic","kind":"bar","conc":2,"response":1.4,"ppm":"2 ppm"},{"panel":"Cubic","kind":"bar","conc":5,"response":1.8,"ppm":"5 ppm"},{"panel":"Cubic","kind":"bar","conc":10,"response":2.4,"ppm":"10 ppm"},{"panel":"Cubic","kind":"bar","conc":25,"response":3.7,"ppm":"25 ppm"},{"panel":"Cubic","kind":"bar","conc":50,"response":5.4,"ppm":"50 ppm"},{"panel":"Cubic","kind":"bar","conc":80,"response":7.5,"ppm":"80 ppm"},{"panel":"Cubic","kind":"bar","conc":100,"response":9.4,"ppm":"100 ppm"},
{"panel":"Rhombohedral","kind":"err","conc":100,"response":43.1,"response2":47.1},{"panel":"Mixed phase","kind":"err","conc":100,"response":11.6,"response2":16.9},{"panel":"Cubic","kind":"err","conc":100,"response":9.4,"response2":12.4},
{"panel":"Rhombohedral","kind":"se","conc":7.78,"response":41.7,"text":"S"},{"panel":"Rhombohedral","kind":"se","conc":17,"response":41.7,"text":"= 43.1"},{"panel":"Rhombohedral","kind":"sub","conc":11.07,"response":40.5,"text":"E"},
{"panel":"Mixed phase","kind":"se","conc":7.96,"response":12.35,"text":"S"},{"panel":"Mixed phase","kind":"se","conc":17.5,"response":12.35,"text":"= 11.6"},{"panel":"Mixed phase","kind":"sub","conc":11.4,"response":11.1,"text":"E"},
{"panel":"Cubic","kind":"se","conc":9.8,"response":11.1,"text":"S"},{"panel":"Cubic","kind":"se","conc":21.5,"response":11.1,"text":"= 9.4"},{"panel":"Cubic","kind":"sub","conc":14.1,"response":9.9,"text":"E"},
{"panel":"Rhombohedral","kind":"anchor","conc":0.5,"response":1},{"panel":"Mixed phase","kind":"anchor","conc":0.5,"response":1},{"panel":"Cubic","kind":"anchor","conc":0.5,"response":1}
]},
"facet":{"column":{"field":"panel","type":"nominal","sort":["Rhombohedral","Mixed phase","Cubic"],"header":null}},"spacing":372.5,"bounds":"flush",
"resolve":{"scale":{"x":"independent","y":"independent"},"axis":{"x":"independent","y":"independent"}},
"spec":{"width":679,"height":556,"view":{"stroke":"black","strokeWidth":3},
"encoding":{"x":{"field":"conc","type":"quantitative","scale":{"type":"log","domain":[0.5,200],"nice":false},"axis":{"title":"Ethanol conc. (ppm)","titleFontSize":54,"titleFontWeight":"bold","titleColor":"black","titleY":169,"titleBaseline":"alphabetic","values":[0.5,0.6,0.7,0.8,0.9,1,2,3,4,5,6,7,8,9,10,20,30,40,50,60,70,80,90,100,200],"labelExpr":"datum.value==1||datum.value==10||datum.value==100?toString(datum.value):''","labelOverlap":false,"labelFlush":false,"labelFontSize":42,"labelColor":"black","labelPadding":22,"domain":false,"grid":false,"tickColor":"black","tickWidth":3,"tickSize":{"condition":{"test":"datum.value==1||datum.value==10||datum.value==100","value":26},"value":19}}},
"y":{"field":"response","type":"quantitative","scale":{"domain":[1,50],"nice":false,"zero":false},"axis":{"title":null,"values":[1,10,20,30,40,50],"labelFontSize":42,"labelColor":"black","labelPadding":26,"labelOffset":{"condition":{"test":"datum.value==1","value":-14},"value":0},"domain":false,"grid":false,"tickColor":"black","tickWidth":3,"tickSize":24,"tickOpacity":{"condition":{"test":"datum.value==1","value":0},"value":1}}}},
"layer":[
{"transform":[{"filter":"datum.kind=='bar'"}],"mark":{"type":"bar","size":53,"orient":"vertical","stroke":"black","strokeWidth":3},"encoding":{"y2":{"datum":1},"color":{"field":"ppm","type":"nominal","legend":null,"scale":{"domain":["1 ppm","2 ppm","5 ppm","10 ppm","25 ppm","50 ppm","80 ppm","100 ppm"],"range":["#800080","#000080","#0000ff","#008080","#008000","#808000","#ff8000","#800000"]}}}},
{"transform":[{"filter":"datum.kind=='err'"}],"mark":{"type":"rule","stroke":"black","strokeWidth":2},"encoding":{"y2":{"field":"response2"}}},
{"transform":[{"filter":"datum.kind=='err'"}],"mark":{"type":"tick","orient":"horizontal","size":24,"thickness":2,"color":"black","opacity":1},"encoding":{"y":{"field":"response2","type":"quantitative"}}},
{"transform":[{"filter":"datum.kind=='se'"}],"mark":{"type":"text","fontSize":61,"fontStyle":"italic","align":"left","baseline":"alphabetic","color":"#c00000"},"encoding":{"text":{"field":"text"}}},
{"transform":[{"filter":"datum.kind=='sub'"}],"mark":{"type":"text","fontSize":40,"fontStyle":"italic","align":"left","baseline":"alphabetic","color":"#c00000"},"encoding":{"text":{"field":"text"}}},
{"transform":[{"filter":"datum.kind=='anchor'"}],"mark":{"type":"text","text":"Gas","fontSize":52,"fontWeight":"bold","angle":270,"align":"center","baseline":"middle","xOffset":-231,"yOffset":-310,"color":"black"}},
{"transform":[{"filter":"datum.kind=='anchor'"}],"mark":{"type":"text","text":"response (","fontSize":52,"fontWeight":"bold","angle":270,"align":"left","baseline":"middle","xOffset":-160,"yOffset":-150,"color":"black"}},
{"transform":[{"filter":"datum.kind=='anchor'"}],"mark":{"type":"text","text":"S","fontSize":52,"fontWeight":"bold","fontStyle":"italic","angle":270,"align":"left","baseline":"middle","xOffset":-160,"yOffset":-421,"color":"black"}},
{"transform":[{"filter":"datum.kind=='anchor'"}],"mark":{"type":"text","text":")","fontSize":52,"fontWeight":"bold","angle":270,"align":"left","baseline":"middle","xOffset":-160,"yOffset":-456,"color":"black"}}
]}}
],"spacing":372.5,"bounds":"flush"}
]}
